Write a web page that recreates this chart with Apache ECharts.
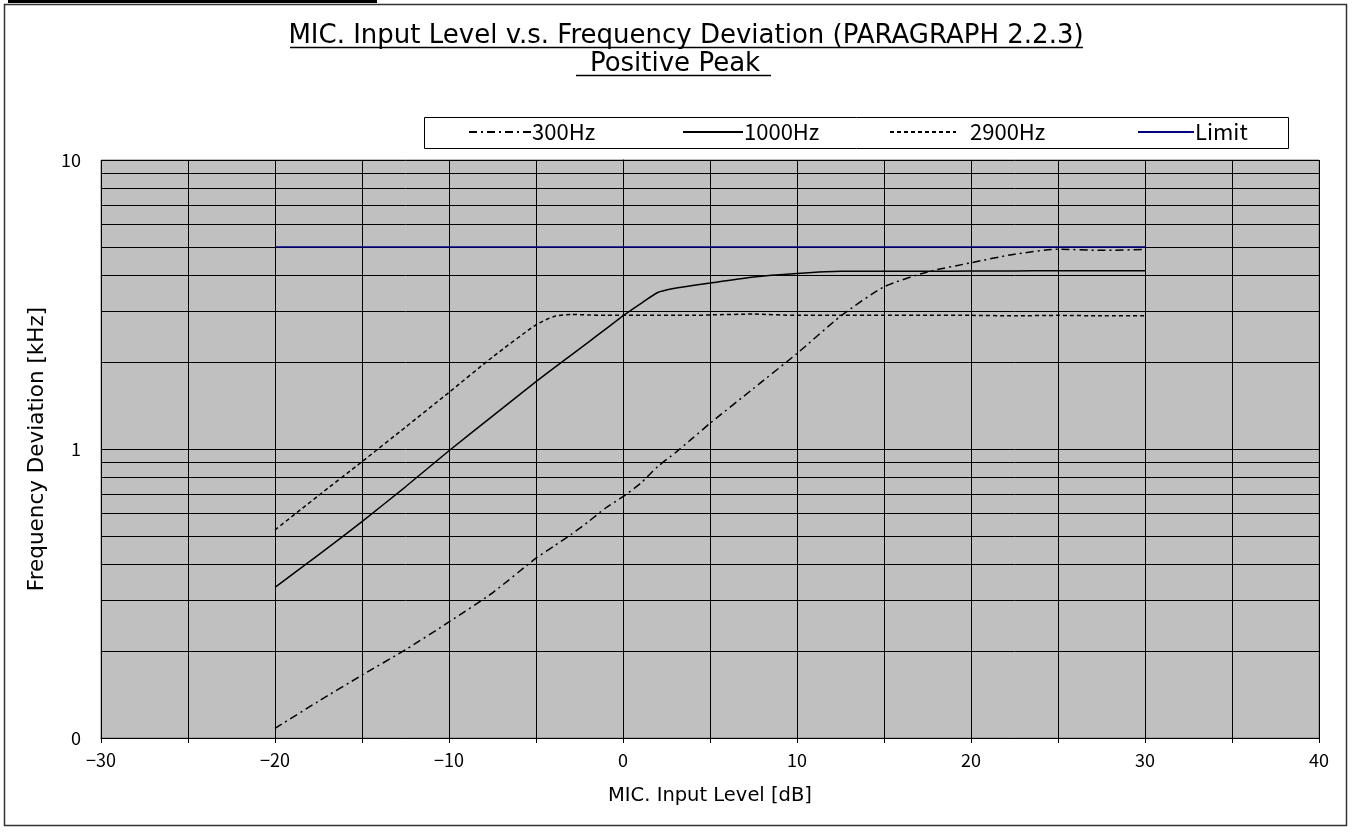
<!DOCTYPE html>
<html>
<head>
<meta charset="utf-8">
<script src="https://cdn.jsdelivr.net/npm/echarts@6/dist/echarts.min.js"></script>
<style>
html,body{margin:0;padding:0;background:#fff;}
#c{width:1353px;height:832px;}
</style>
</head>
<body>
<div id="c"></div>
<script>
// ---- data ----
const inputLevels = [-20, -17.5, -15, -12.5, -10, -7.5, -5, -4, -3, -2, -1, 0, 1, 2, 3, 4, 5, 7.5, 10, 12.5, 15, 17.5, 20, 22.5, 25, 27.5, 30];
const dev300 =  [0.108, 0.134, 0.165, 0.202, 0.252, 0.318, 0.419, 0.46, 0.505, 0.56, 0.625, 0.684, 0.76, 0.87, 0.97, 1.09, 1.227, 1.62, 2.14, 2.88, 3.64, 4.10, 4.41, 4.72, 4.91, 4.87, 4.90];
const dev1000 = [0.332, 0.43, 0.561, 0.74, 0.986, 1.30, 1.71, 1.90, 2.11, 2.34, 2.60, 2.89, 3.18, 3.48, 3.60, 3.68, 3.75, 3.94, 4.05, 4.12, 4.12, 4.12, 4.13, 4.13, 4.14, 4.14, 4.14];
const dev2900 = [0.525, 0.69, 0.904, 1.19, 1.57, 2.08, 2.69, 2.87, 2.92, 2.91, 2.90, 2.90, 2.90, 2.90, 2.90, 2.90, 2.91, 2.93, 2.90, 2.90, 2.90, 2.90, 2.90, 2.89, 2.90, 2.89, 2.89];
const limitLevels = [-20, 30];
const limitValues = [5, 5];
const yTickValues = [0.1,0.2,0.3,0.4,0.5,0.6,0.7,0.8,0.9,1,2,3,4,5,6,7,8,9,10];
const yLabelValues = [0.1, 1, 10];
const seriesNames = ['300Hz', '1000Hz', '2900Hz', 'Limit'];
const titleLines = ['MIC. Input Level v.s. Frequency Deviation (PARAGRAPH 2.2.3)', 'Positive Peak'];

function pairs(xs, ys){ return xs.map((x,i)=>[x, ys[i]]); }

const FONT = '"Noto Sans CJK JP", "Noto Sans", sans-serif';
const FONT2 = '"DejaVu Sans", sans-serif';
const chart = echarts.init(document.getElementById('c'), null, {renderer:'canvas'});

function legendAt(name, left, w, gap){
  return {
    data:[name], left:left, top:121, padding:0, itemWidth:w, itemHeight:14, itemGap:0,
    itemStyle:{opacity:0, color:'rgba(0,0,0,0)', borderColor:'rgba(0,0,0,0)', borderWidth:0},
    textStyle:{fontFamily:FONT, fontSize:22, color:'#000', padding:[0,0,0,gap]},
    selectedMode:false
  };
}

const option = {
  animation:false,
  backgroundColor:'#fff',
  title:[
    {text:titleLines[0], left:686, top:22, textAlign:'center', padding:0,
      textStyle:{fontFamily:FONT2, fontSize:26, fontWeight:'normal', color:'#000', lineHeight:28}},
    {text:titleLines[1], left:675, top:50, textAlign:'center', padding:0,
      textStyle:{fontFamily:FONT2, fontSize:26, fontWeight:'normal', color:'#000', lineHeight:28}}
  ],
  legend:[
    legendAt(seriesNames[0], 468, 62, -4),
    legendAt(seriesNames[1], 682, 60, -4),
    legendAt(seriesNames[2], 889, 66, 9),
    legendAt(seriesNames[3], 1137, 56, -4)
  ],
  graphic:[
    {type:'rect', shape:{x:8,y:0,width:369,height:3}, style:{fill:'#000'}},
    {type:'rect', shape:{x:4.5,y:4.5,width:1342,height:821}, style:{fill:'none', stroke:'#333', lineWidth:1.5}},
    {type:'rect', shape:{x:424.5,y:117.5,width:864,height:31}, style:{fill:'#fff', stroke:'#000', lineWidth:1}, z:-1},
    {type:'line', shape:{x1:290,y1:47.5,x2:1083,y2:47.5}, style:{stroke:'#000', lineWidth:1.5}},
    {type:'line', shape:{x1:576,y1:75.5,x2:771,y2:75.5}, style:{stroke:'#000', lineWidth:1.5}}
  ],
  grid:{left:101, right:34, top:160, bottom:94, show:true, backgroundColor:'#c0c0c0', borderColor:'#808080', borderWidth:1, containLabel:false},
  xAxis:{
    type:'value', min:-30, max:40, interval:5,
    name:'MIC. Input Level [dB]', nameLocation:'middle', nameGap:48,
    nameTextStyle:{fontFamily:FONT2, fontSize:19.5, color:'#000'},
    axisLine:{show:true, onZero:false, lineStyle:{color:'#000', width:1}},
    axisTick:{show:true, length:5, lineStyle:{color:'#000'}},
    axisLabel:{fontFamily:FONT, fontSize:18, color:'#000', margin:13,
      formatter:v => (v % 10 === 0) ? (v < 0 ? '\u2212' + Math.abs(v) : String(v)) : ''},
    splitLine:{show:true, lineStyle:{color:'#000', width:1}}
  },
  yAxis:{
    type:'log', logBase:10, min:0.1, max:10,
    name:'Frequency Deviation [kHz]', nameLocation:'middle', nameGap:53,
    nameTextStyle:{fontFamily:FONT2, fontSize:21.5, color:'#000'},
    axisLine:{show:true, lineStyle:{color:'#000', width:1}},
    axisTick:{show:true, length:5, customValues:yTickValues, lineStyle:{color:'#000'}},
    axisLabel:{fontFamily:FONT, fontSize:18, color:'#000', margin:20, customValues:yLabelValues,
      formatter:v => v.toFixed(0)},
    splitLine:{show:true, lineStyle:{color:'#000', width:1}}
  },
  series:[
    {name:seriesNames[0], type:'line', data:pairs(inputLevels, dev300), symbol:'none', smooth:0.2,
      lineStyle:{color:'#000', width:1.5, type:[8,4,2,4]}, itemStyle:{color:'#000'}},
    {name:seriesNames[1], type:'line', data:pairs(inputLevels, dev1000), symbol:'none', smooth:0.2,
      lineStyle:{color:'#000', width:1.5, type:'solid'}, itemStyle:{color:'#000'}},
    {name:seriesNames[2], type:'line', data:pairs(inputLevels, dev2900), symbol:'none', smooth:0.2,
      lineStyle:{color:'#000', width:1.5, type:[4,3]}, itemStyle:{color:'#000'}},
    {name:seriesNames[3], type:'line', data:pairs(limitLevels, limitValues), symbol:'none',
      lineStyle:{color:'#000080', width:1.5}, itemStyle:{color:'#000080'}}
  ]
};
chart.setOption(option);
</script>
</body>
</html>
